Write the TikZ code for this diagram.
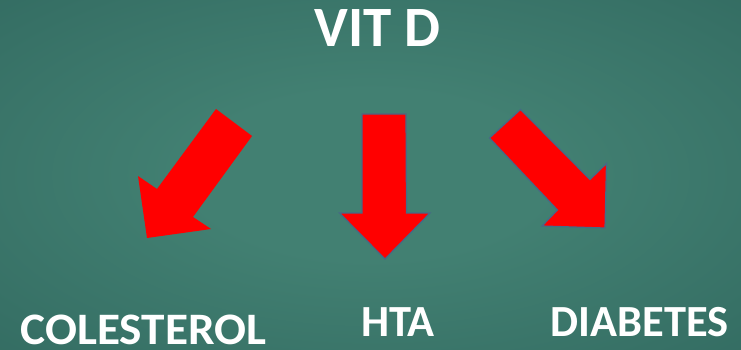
\documentclass[tikz,border=0pt]{standalone}
\usepackage{fontspec}
\setmainfont{Carlito}
\usepackage{tikz}
\usetikzlibrary{calc}

\definecolor{bginner}{RGB}{66,128,114}
\definecolor{bgouter}{RGB}{44,98,90}
\definecolor{arrowred}{RGB}{255,0,0}
\definecolor{arrowrim}{RGB}{70,105,135}
\pgfdeclareradialshading{slidebg}{\pgfpoint{0bp}{0bp}}{color(0bp)=(bginner); color(12bp)=(bginner); color(50bp)=(bgouter); color(70bp)=(bgouter)}

\tikzset{
  word/.style={text=white, font=\bfseries, anchor=base, inner sep=0pt},
  bigarrow/.style={fill=arrowred, draw=arrowrim, line width=1.2pt, line join=miter}
}

\begin{document}
\begin{tikzpicture}[x=1pt,y=-1pt]

\shade[shading=slidebg] (0,0) rectangle (741,350);
\useasboundingbox (0,0) rectangle (741,350);

\node[word, font=\fontsize{57}{57}\selectfont\bfseries] (vitd) at (377.5,46.5) {VIT D};

\node[word, font=\fontsize{45}{45}\selectfont\bfseries, xscale=1.05] (col) at (143.5,344) {COLESTEROL};
\node[word, font=\fontsize{44.5}{44.5}\selectfont\bfseries] (hta) at (398,336.5) {HTA};
\node[word, font=\fontsize{44.5}{44.5}\selectfont\bfseries] (dia) at (639.5,336.5) {DIABETES};

% arrows
\fill[arrowred] (216,109) -- (157,189) -- (138,176) -- (147,238) -- (211,229)
  -- (193,217) -- (252,136) -- cycle;

\draw[bigarrow] (362,114) -- (406,114) -- (406.5,213) -- (430,213) -- (385,259)
  -- (339.5,213) -- (362,213) -- cycle;

\draw[bigarrow] (489.5,138) -- (520.5,109.5) -- (590,179.5) -- (606.5,163.5)
  -- (605,228) -- (542,226) -- (557.5,210) -- cycle;

\end{tikzpicture}
\end{document}
